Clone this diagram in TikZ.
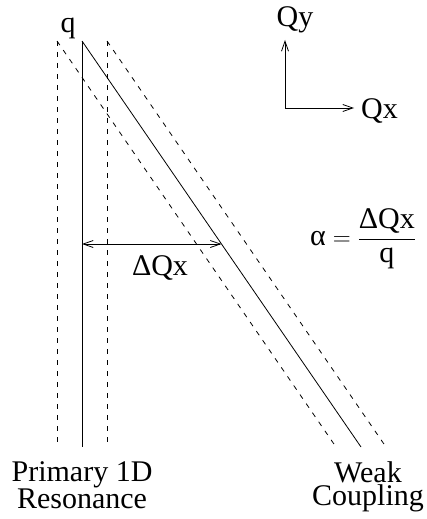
\documentclass[tikz,border=0pt]{standalone}
\usepackage{amsmath}
\usepackage{fontspec}
\setmainfont{Liberation Serif}
\usetikzlibrary{arrows.meta}
\tikzset{
  resline/.style={line width=0.8pt},
  bandline/.style={line width=0.8pt,dash pattern=on 5pt off 6pt},
  barb/.style={line width=0.8pt,-{Straight Barb[length=10pt,width=7pt]}},
  lbl/.style={font=\fontsize{30}{23}\selectfont,inner sep=0pt,align=center}
}
\begin{document}
\begin{tikzpicture}[x=1pt,y=-1pt]
\useasboundingbox (0,0) rectangle (426,519);
% resonance lines
\coordinate (top) at (82,41);
\coordinate (topL) at (57,41);
\coordinate (topR) at (107,41);
\coordinate (bot) at (82,447);
\coordinate (botL) at (57,447);
\coordinate (botR) at (107,447);
\coordinate (wbot) at (361,447);
\coordinate (wbotL) at (336,447);
\coordinate (wbotR) at (386,447);
\draw[resline] (top) -- (bot);
\draw[bandline] (topL) -- (botL);
\draw[bandline] (topR) -- (botR);
\draw[resline] (top) -- (wbot);
\draw[bandline] (topL) -- (wbotL);
\draw[bandline] (topR) -- (wbotR);
% distance between the lines
\coordinate (dL) at (82,244);
\coordinate (dR) at (221.5,244);
\draw[barb,{Straight Barb[length=10pt,width=7pt]}-{Straight Barb[length=10pt,width=7pt]}] (dL) -- (dR);
\node[lbl,anchor=base] (dq) at (160,275) {ΔQx};
% axes
\coordinate (orig) at (285,108);
\coordinate (yend) at (285,40);
\coordinate (xend) at (354,108);
\draw[barb] (orig) -- (yend);
\draw[barb] (orig) -- (xend);
\node[lbl,anchor=base] (qy) at (295,27) {Qy};
\node[lbl,anchor=base west] (qx) at (361,118) {Qx};
% labels
\node[lbl,anchor=base] (q) at (68,33) {q};
\node[lbl,anchor=west] (alpha) at (310,239)
  {$\text{α}=\dfrac{\text{ΔQx}}{\text{q}}$};
\node[lbl,anchor=north] (prim) at (82,461) {Primary 1D\\Resonance};
\node[lbl,anchor=north] (weak) at (368,461) {Weak\\Coupling};
\end{tikzpicture}
\end{document}
